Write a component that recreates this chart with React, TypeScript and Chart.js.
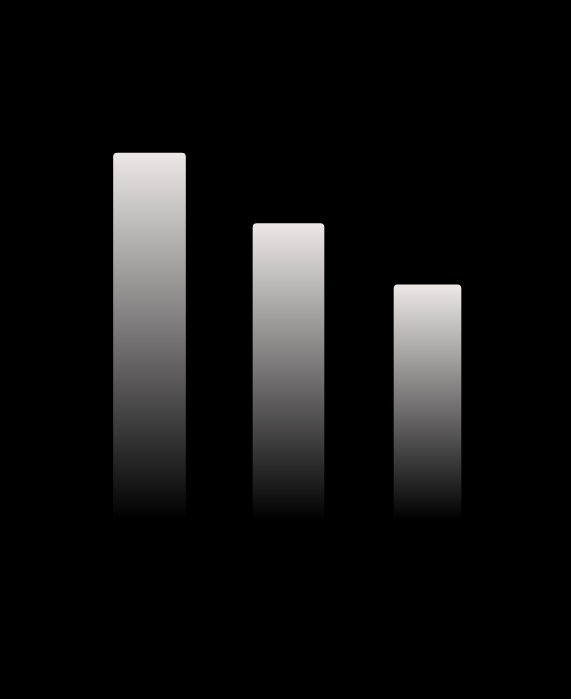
import { useEffect, useRef } from 'react'
import { Chart, registerables } from 'chart.js'

Chart.register(...registerables);

// three columns (same unit, axis hidden)
const categories = ['A', 'B', 'C'];
const values = [78, 63, 50];
const yMax = 100;

// each column is drawn a touch narrower than the one before it
const barWidths = [72, 71, 67];

const TOP_COLOR = 'rgba(236, 232, 232, 1)';
const BOTTOM_COLOR = 'rgba(0, 0, 0, 1)';

export default function App() {
  const canvasRef = useRef<HTMLCanvasElement>(null);
  const chartRef = useRef<Chart | null>(null);

  useEffect(() => {
    if (!canvasRef.current) return;
    chartRef.current?.destroy();

    const datasets = values.map((v, i) => ({
      label: categories[i],
      data: categories.map((_, j) => (j === i ? v : null)),
      barThickness: barWidths[i],
      grouped: false,
      borderWidth: 0,
      borderRadius: 4,
      borderSkipped: 'bottom' as const,
      backgroundColor: (ctx: any) => {
        const chart = ctx.chart;
        const y = chart.scales?.y;
        const raw = ctx.raw;
        if (!y || raw == null) return TOP_COLOR;
        const top = y.getPixelForValue(raw);
        const bottom = y.getPixelForValue(0);
        // scale not laid out yet on the first pass
        if (!isFinite(top) || !isFinite(bottom) || top === bottom) return TOP_COLOR;
        const g = chart.ctx.createLinearGradient(0, top, 0, bottom);
        g.addColorStop(0, TOP_COLOR);
        g.addColorStop(1, BOTTOM_COLOR);
        return g;
      },
    }));

    chartRef.current = new Chart(canvasRef.current, {
      type: 'bar',
      data: { labels: categories, datasets },
      options: {
        responsive: false,
        animation: false,
        layout: { padding: { left: 80, right: 74, top: 49.5, bottom: 179 } },
        plugins: {
          legend: { display: false },
          tooltip: { enabled: false },
        },
        scales: {
          x: { display: false, offset: true },
          y: { display: false, min: 0, max: yMax },
        },
      },
    });

    return () => {
      chartRef.current?.destroy();
      chartRef.current = null;
    };
  }, []);

  return (
    <div style={{ position: 'fixed', inset: 0, background: '#000' }}>
      <canvas ref={canvasRef} width={571} height={699} style={{ display: 'block', width: 571, height: 699 }} />
    </div>
  );
}
